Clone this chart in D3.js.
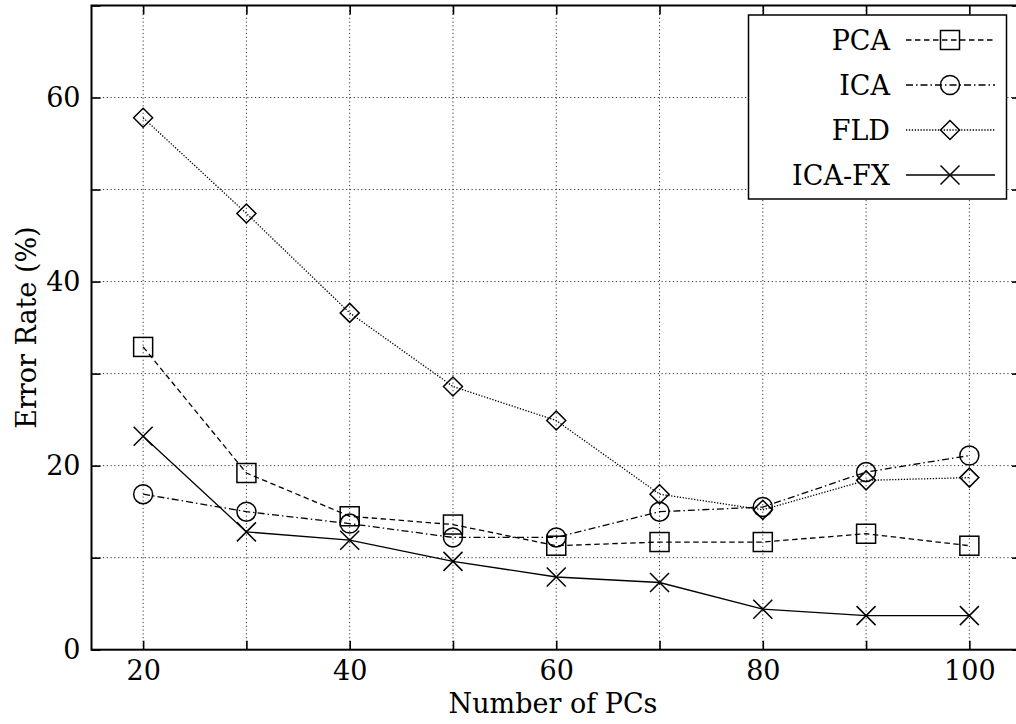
<!DOCTYPE html>
<html>
<head>
<meta charset="utf-8">
<script src="https://cdn.jsdelivr.net/npm/d3@7"></script>
<style>
  body { margin: 0; background: #fff; }
</style>
</head>
<body>
<svg id="chart" width="1016" height="724"></svg>
<script>
// number of principal components
const pcs = [20, 30, 40, 50, 60, 70, 80, 90, 100];

// error rate (%) for each method
const pcaErr   = [32.9, 19.2, 14.5, 13.6, 11.3, 11.7, 11.7, 12.6, 11.3];
const icaErr   = [16.9, 15.0, 13.7, 12.2, 12.2, 15.0, 15.5, 19.3, 21.1];
const fldErr   = [57.8, 47.4, 36.6, 28.6, 24.9, 16.9, 15.2, 18.4, 18.7];
const icafxErr = [23.2, 12.8, 11.9, 9.6, 7.9, 7.3, 4.4, 3.7, 3.7];

const seriesNames = ['PCA', 'ICA', 'FLD', 'ICA-FX'];
const xTicks = [20, 30, 40, 50, 60, 70, 80, 90, 100];
const xLabels = [20, 40, 60, 80, 100];
const yTicks = [0, 10, 20, 30, 40, 50, 60, 70];
const yLabels = [0, 20, 40, 60];

const margin = {top: 5.5, left: 91.5, right: -5, bottom: 74.3};
const W = 1016, H = 724;
const FONT = 'DejaVu Serif, serif';
const FS = 27;
const svg = d3.select('#chart').attr('font-family', FONT);

const x = d3.scaleLinear().domain([15, 105]).range([margin.left, W - margin.right]);
const y = d3.scaleLinear().domain([0, 70]).range([H - margin.bottom, margin.top]);

// grid
const grid = svg.append('g').attr('stroke', '#333').attr('stroke-width', 1)
                .attr('stroke-dasharray', '1.2,2.6');
grid.selectAll('.gx').data(xTicks).enter().append('line')
    .attr('x1', d => x(d)).attr('x2', d => x(d))
    .attr('y1', y(0)).attr('y2', y(70));
grid.selectAll('.gy').data(yTicks.filter(d => d > 0 && d < 70)).enter().append('line')
    .attr('x1', x(15)).attr('x2', x(105))
    .attr('y1', d => y(d)).attr('y2', d => y(d));

// series
const styles = [
  {data: pcaErr,   dash: '5.5,3.5',   mark: 'square'},
  {data: icaErr,   dash: '7,3,1.5,3', mark: 'circle'},
  {data: fldErr,   dash: '1.3,1.6',   mark: 'diamond'},
  {data: icafxErr, dash: null,        mark: 'cross'},
];

function drawMarker(g, kind, cx, cy){
  const s = 9.5;
  if(kind === 'square'){
    g.append('rect').attr('x', cx - s).attr('y', cy - s)
     .attr('width', 2*s).attr('height', 2*s);
  } else if(kind === 'circle'){
    g.append('circle').attr('cx', cx).attr('cy', cy).attr('r', s);
  } else if(kind === 'diamond'){
    g.append('path').attr('d', `M${cx},${cy-s}L${cx+s},${cy}L${cx},${cy+s}L${cx-s},${cy}Z`);
  } else {
    g.append('path').attr('d', `M${cx-s},${cy-s}L${cx+s},${cy+s}M${cx-s},${cy+s}L${cx+s},${cy-s}`);
  }
}

const line = d3.line().x((d, i) => x(pcs[i])).y(d => y(d));

styles.forEach(st => {
  svg.append('path').datum(st.data)
     .attr('d', line)
     .attr('fill', 'none').attr('stroke', '#000').attr('stroke-width', 1.3)
     .attr('stroke-dasharray', st.dash);
  const mg = svg.append('g').attr('fill', 'none').attr('stroke', '#000').attr('stroke-width', 1.5);
  st.data.forEach((v, i) => drawMarker(mg, st.mark, x(pcs[i]), y(v)));
});

// frame and ticks
const axisG = svg.append('g');
axisG.append('rect')
     .attr('x', x(15)).attr('y', y(70))
     .attr('width', x(105) - x(15)).attr('height', y(0) - y(70))
     .attr('fill', 'none').attr('stroke', '#000').attr('stroke-width', 2);

const bottomAxis = d3.axisBottom(x).tickValues(xTicks).tickSizeInner(-9).tickSizeOuter(0)
                     .tickFormat(d => xLabels.includes(d) ? d : '').tickPadding(11);
const topAxis = d3.axisTop(x).tickValues(xTicks).tickSizeInner(-9).tickSizeOuter(0).tickFormat('');
const leftAxis = d3.axisLeft(y).tickValues(yTicks).tickSizeInner(-9).tickSizeOuter(0)
                   .tickFormat(d => yLabels.includes(d) ? d : '').tickPadding(11);
const rightAxis = d3.axisRight(y).tickValues(yTicks).tickSizeInner(-9).tickSizeOuter(0).tickFormat('');

[
  [bottomAxis, `translate(0,${y(0)})`],
  [topAxis, `translate(0,${y(70)})`],
  [leftAxis, `translate(${x(15)},0)`],
  [rightAxis, `translate(${x(105)},0)`],
].forEach(([ax, tr]) => {
  const g = axisG.append('g').attr('transform', tr).call(ax)
                 .attr('font-family', FONT).attr('font-size', FS);
  g.select('.domain').remove();
  g.selectAll('line').attr('stroke', '#000').attr('stroke-width', 1.6);
  g.selectAll('text').attr('fill', '#000');
});

// axis titles
svg.append('text').attr('x', 553).attr('y', 713)
   .attr('text-anchor', 'middle').attr('font-size', FS)
   .text('Number of PCs');
svg.append('text')
   .attr('transform', `translate(36,${(y(0) + y(70)) / 2}) rotate(-90)`)
   .attr('text-anchor', 'middle').attr('font-size', FS)
   .text('Error Rate (%)');

// legend
const lg = svg.append('g');
lg.append('rect').attr('x', 748.5).attr('y', 15).attr('width', 258).attr('height', 184)
  .attr('fill', '#fff').attr('stroke', '#000').attr('stroke-width', 1.5);
styles.forEach((st, i) => {
  const cy = 40 + i * 45;
  lg.append('text').attr('x', 890).attr('y', cy + 10).attr('text-anchor', 'end')
    .attr('font-size', FS).text(seriesNames[i]);
  lg.append('line').attr('x1', 906).attr('x2', 995).attr('y1', cy).attr('y2', cy)
    .attr('stroke', '#000').attr('stroke-width', 1.3).attr('stroke-dasharray', st.dash);
  const mg = lg.append('g').attr('fill', 'none').attr('stroke', '#000').attr('stroke-width', 1.5);
  drawMarker(mg, st.mark, 950, cy);
});
</script>
</body>
</html>
